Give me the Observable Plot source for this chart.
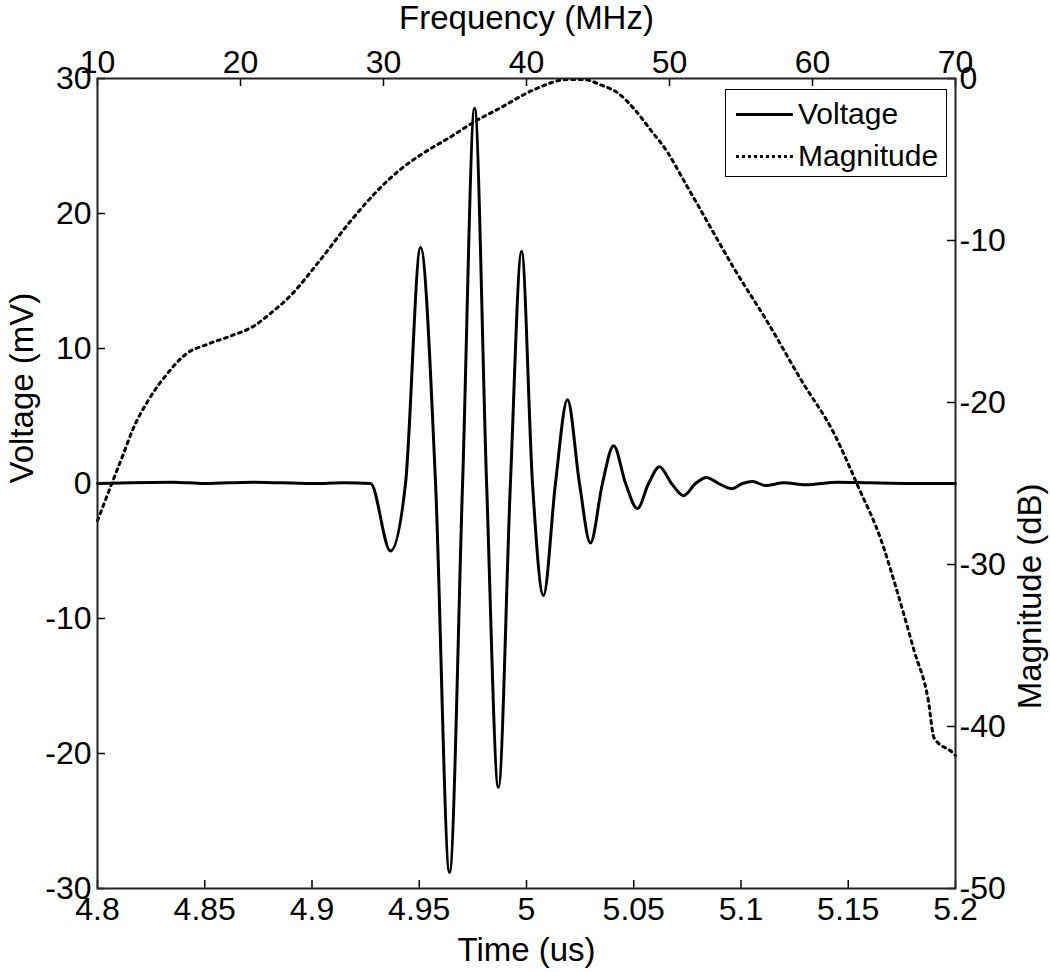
<!DOCTYPE html>
<html><head><meta charset="utf-8">
<script src="https://cdn.jsdelivr.net/npm/d3@7"></script>
<script src="https://cdn.jsdelivr.net/npm/@observablehq/plot@0.6"></script>
<style>
body{margin:0;background:#fff;}
#wrap{position:relative;width:1050px;height:972px;font-family:"Liberation Sans",Arial,sans-serif;}
#wrap svg{position:absolute;left:0;top:0;overflow:visible;}
#legend{position:absolute;left:725px;top:89px;width:220px;height:86px;border:1.5px solid #000;background:#fff;font-size:30px;color:#000;}
#legend .s{position:absolute;left:10px;width:57px;height:0;}
#legend .t{position:absolute;left:72px;line-height:30px;white-space:nowrap;}
</style></head><body><div id="wrap"></div>
<script>
// Voltage trace (time in us, voltage in mV)
const timeUs = [4.800, 4.835, 4.850, 4.872, 4.900, 4.915, 4.9273, 4.9366, 4.9436, 4.9506, 4.9576, 4.9641, 4.9702, 4.9758, 4.9814, 4.9869, 4.9925, 4.9977, 5.0028, 5.0079, 5.0135, 5.0191, 5.0247, 5.0298, 5.0354, 5.0406, 5.0462, 5.0517, 5.0569, 5.0620, 5.0676, 5.0732, 5.0788, 5.0839, 5.0895, 5.0956, 5.1007, 5.1054, 5.1114, 5.1200, 5.1300, 5.1450, 5.1600, 5.1800, 5.2000];
const voltageMv = [0, 0.1, 0, 0.1, 0, 0.05, 0, -5.0, 0, 17.5, 0, -28.8, 0, 27.8, 0, -22.5, 0, 17.2, 0, -8.3, 0, 6.2, 0, -4.4, 0, 2.8, 0, -1.85, 0, 1.25, 0, -0.9, 0, 0.45, 0, -0.38, 0, 0.15, -0.15, 0.05, -0.1, 0.1, 0.05, 0, 0];

// Magnitude spectrum (frequency in MHz, magnitude in dB)
const freqMHz = [10.0, 11.0, 11.8, 12.5, 13.6, 14.9, 16.2, 17.7, 19.3, 20.9, 22.1, 23.5, 25.4, 27.7, 29.6, 31.2, 32.8, 34.7, 36.3, 38.2, 40.5, 42.9, 44.0, 45.2, 46.4, 47.5, 48.7, 49.9, 51.0, 52.2, 54.5, 56.9, 59.2, 61.5, 63.2, 64.8, 65.9, 67.1, 68.1, 68.5, 69.9, 70.0];
const magnitudeDb = [-27.3, -25.0, -23.2, -21.6, -19.8, -18.2, -17.0, -16.4, -15.9, -15.3, -14.5, -13.4, -11.4, -8.8, -6.9, -5.6, -4.6, -3.6, -2.7, -1.8, -0.7, -0.06, -0.06, -0.4, -0.9, -1.85, -3.2, -4.6, -6.3, -8.15, -11.7, -15.1, -18.6, -21.9, -25.2, -28.5, -31.6, -35.3, -38.4, -40.7, -41.7, -41.8];

const timeTicks = [4.8, 4.85, 4.9, 4.95, 5, 5.05, 5.1, 5.15, 5.2];
const voltTicks = [-30, -20, -10, 0, 10, 20, 30];
const freqTicks = [10, 20, 30, 40, 50, 60, 70];
const magTicks = [-50, -40, -30, -20, -10, 0];

const seriesNames = ["Voltage", "Magnitude"];
const axisTitles = {time: "Time (us)", volt: "Voltage (mV)", freq: "Frequency (MHz)", mag: "Magnitude (dB)"};

const W = 1050, H = 972;
const mt = 78, mr = 95, mb = 84, ml = 97;
const fw = W - ml - mr, fh = H - mt - mb;
const TL = 8;
const font = "'Liberation Sans', Arial, sans-serif";
const fmt = d => String(+(+d).toFixed(2));

const voltData = timeUs.map((t, i) => ({t, v: voltageMv[i]}));
const magData = freqMHz.map((f, i) => ({f, m: magnitudeDb[i]}));

const common = {
  width: W, height: H, marginTop: mt, marginRight: mr, marginBottom: mb, marginLeft: ml,
  style: {fontFamily: font, fontSize: "32px", background: "transparent", color: "#000", overflow: "visible"}
};

const p1 = Plot.plot({
  ...common,
  x: {domain: [4.8, 5.2]},
  y: {domain: [-30, 30]},
  marks: [
    Plot.ruleX(timeTicks, {x: d => d, insetTop: fh - TL, stroke: "#000", strokeWidth: 1.5}),
    Plot.ruleY(voltTicks, {y: d => d, insetRight: fw - TL, stroke: "#000", strokeWidth: 1.5}),
    Plot.axisX({anchor: "bottom", ticks: timeTicks, tickSize: 0, tickPadding: 9, label: null, tickFormat: fmt, fontSize: 32}),
    Plot.axisY({anchor: "left", ticks: voltTicks, tickSize: 0, tickPadding: 6, label: null, tickFormat: fmt, fontSize: 32}),
    Plot.line(voltData, {x: "t", y: "v", curve: "monotone-x", stroke: "#000", strokeWidth: 3}),
    Plot.text([axisTitles.time], {text: d => d, frameAnchor: "bottom", lineAnchor: "middle", dy: 62, fontSize: 33, fill: "#000"}),
    Plot.text([axisTitles.volt], {text: d => d, frameAnchor: "left", lineAnchor: "middle", dx: -75, rotate: -90, fontSize: 33, fill: "#000"})
  ]
});

const p2 = Plot.plot({
  ...common,
  x: {domain: [10, 70]},
  y: {domain: [-50, 0]},
  marks: [
    Plot.ruleX(freqTicks, {x: d => d, insetBottom: fh - TL, stroke: "#000", strokeWidth: 1.5}),
    Plot.ruleY(magTicks, {y: d => d, insetLeft: fw - TL, stroke: "#000", strokeWidth: 1.5}),
    Plot.axisX({anchor: "top", ticks: freqTicks, tickSize: 0, tickPadding: 6, label: null, tickFormat: fmt, fontSize: 32}),
    Plot.axisY({anchor: "right", ticks: magTicks, tickSize: 0, tickPadding: 4, label: null, tickFormat: fmt, fontSize: 32}),
    Plot.line(magData, {x: "f", y: "m", curve: "monotone-x", stroke: "#000", strokeWidth: 3, strokeDasharray: "3 4.5"}),
    Plot.frame({stroke: "#222", strokeWidth: 2}),
    Plot.text([axisTitles.freq], {text: d => d, frameAnchor: "top", lineAnchor: "middle", dy: -60, fontSize: 33, fill: "#000"}),
    Plot.text([axisTitles.mag], {text: d => d, frameAnchor: "right", lineAnchor: "middle", dx: 75, rotate: -90, fontSize: 33, fill: "#000"})
  ]
});

const wrap = document.getElementById("wrap");
wrap.appendChild(p1);
wrap.appendChild(p2);

const legend = document.createElement("div");
legend.id = "legend";
const styles = ["3px solid #000", "3px dotted #000"];
seriesNames.forEach((name, i) => {
  const cy = 24 + i * 42;
  const s = document.createElement("div");
  s.className = "s";
  s.style.top = (cy - 1.5) + "px";
  s.style.borderTop = styles[i];
  legend.appendChild(s);
  const t = document.createElement("div");
  t.className = "t";
  t.style.top = (cy - 15) + "px";
  t.textContent = name;
  legend.appendChild(t);
});
wrap.appendChild(legend);
</script>
</body></html>
